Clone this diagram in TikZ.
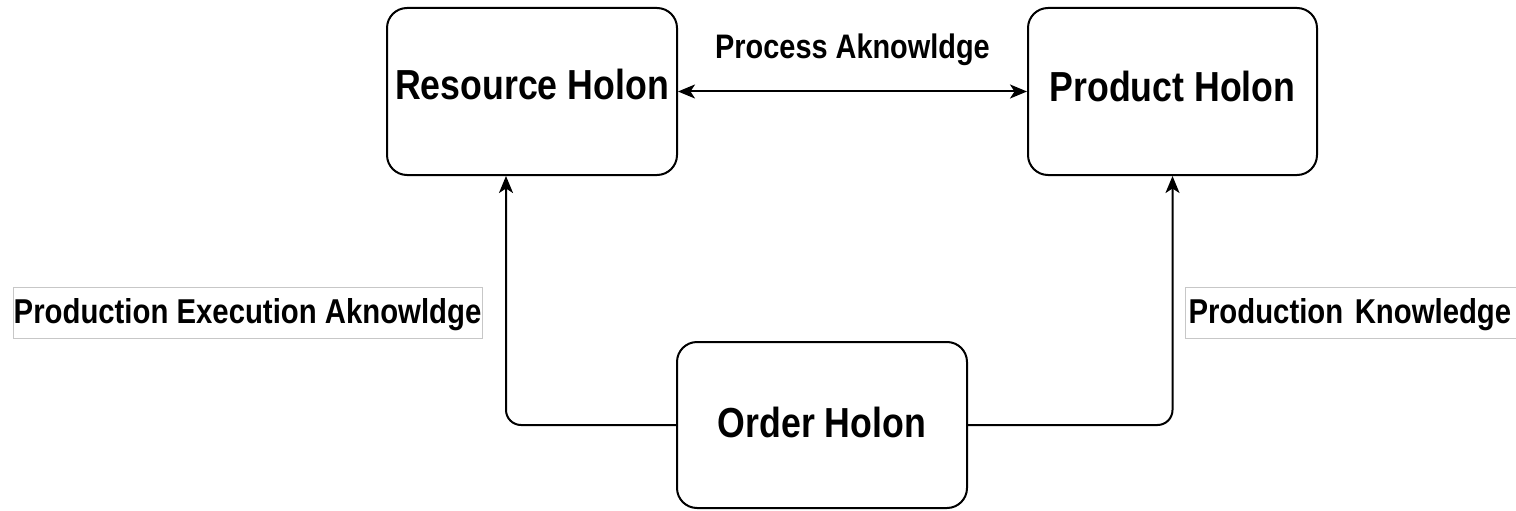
\documentclass[tikz,border=0pt]{standalone}
\usepackage{fontspec}
\setmainfont{Liberation Sans}[FakeStretch=0.85]
\usetikzlibrary{arrows.meta}

% place text on a baseline at a given offset from the node centre
\newcommand\onbase[2]{\smash{\raisebox{#1}{#2}}}

\begin{document}
\begin{tikzpicture}[x=1pt,y=-1pt,
  holon/.style={draw=black, line width=2pt, rounded corners=20pt, fill=white,
    inner sep=0pt, font=\bfseries\fontsize{42}{50}\selectfont},
  tag/.style={draw=black!22, line width=1pt, fill=white, inner sep=0pt,
    font=\bfseries\fontsize{34.5}{40}\selectfont},
  tip/.style={Stealth[length=17pt,width=14pt,inset=4.5pt]},
  link/.style={line width=2pt, rounded corners=15pt, -{Stealth[length=17pt,width=14pt,inset=4.5pt]}},
  dlink/.style={line width=2pt,
    {Stealth[length=17pt,width=14pt,inset=4.5pt]}-{Stealth[length=17pt,width=14pt,inset=4.5pt]}}
]
\useasboundingbox (0,0) rectangle (1516,511);

% holons
\node[holon, minimum width=290pt, minimum height=167pt] (resource) at (532,91.5)
  {\onbase{-8.5pt}{Resource Holon}};
\node[holon, minimum width=289pt, minimum height=167pt] (product) at (1172.5,91.5)
  {\onbase{-9.5pt}{Product Holon}};
\node[holon, minimum width=290pt, minimum height=166pt] (order) at (822,425)
  {\onbase{-12pt}{Order Holon}};

% links between holons
\draw[dlink] (resource.east) -- (product.west)
  node[midway, anchor=base, yshift=33pt, font=\bfseries\fontsize{34}{40}\selectfont] (process) {Process Aknowldge};
\draw[link] (order.west) -| ([xshift=-26pt]resource.south);
\draw[link] (order.east) -| (product.south);

% link labels
\node[tag, minimum width=469pt, minimum height=51pt] (exec) at (247.5,312.5)
  {\onbase{-10.5pt}{Production Execution Aknowldge}};
\node[tag, anchor=west, minimum height=51pt, text width=334pt, inner xsep=3pt, align=left] (know) at (1185,312.5)
  {\onbase{-10.5pt}{Production Knowledge}};
\end{tikzpicture}
\end{document}
